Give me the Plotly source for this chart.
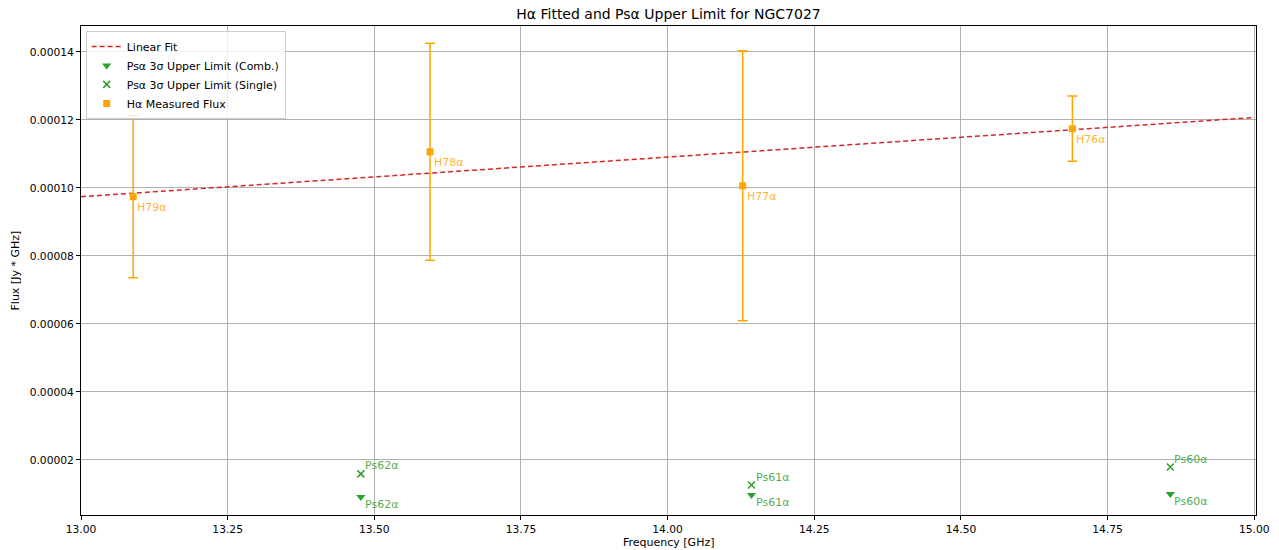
import plotly.graph_objects as go

# Hα measured
h_labels = ["H79α", "H78α", "H77α", "H76α"]
h_freq = [13.089, 13.595, 14.128, 14.690]
h_flux = [0.0000974, 0.0001106, 0.0001006, 0.0001174]
h_err = [0.0000238, 0.0000319, 0.0000397, 0.0000096]

# Psα upper limits
ps_labels = ["Ps62α", "Ps61α", "Ps60α"]
ps_freq = [13.477, 14.143, 14.857]
ps_comb = [0.0000091, 0.0000097, 0.0000100]
ps_single = [0.0000159, 0.0000126, 0.0000179]

# Linear fit endpoints
fit_x = [13.0, 15.0]
fit_y = [0.0000974, 0.0001207]

ORANGE = "#ffa500"
GREEN = "#2ca02c"
RED = "#d62728"
FONT = "DejaVu Sans"
TICK = 10.7

fig = go.Figure()
fig.add_trace(go.Scatter(x=fit_x, y=fit_y, mode="lines", name="Linear Fit",
                         line=dict(color=RED, width=1.5, dash="5px,3px")))
fig.add_trace(go.Scatter(x=ps_freq, y=ps_comb, mode="markers",
                         name="Psα 3σ Upper Limit (Comb.)",
                         marker=dict(symbol="triangle-down", size=8, color=GREEN)))
fig.add_trace(go.Scatter(x=ps_freq, y=ps_single, mode="markers",
                         name="Psα 3σ Upper Limit (Single)",
                         marker=dict(symbol="x-thin", size=7, color=GREEN,
                                     line=dict(color=GREEN, width=1.5))))
fig.add_trace(go.Scatter(x=h_freq, y=h_flux, mode="markers", name="Hα Measured Flux",
                         marker=dict(symbol="square", size=7, color=ORANGE),
                         error_y=dict(type="data", array=h_err, visible=True,
                                      color=ORANGE, thickness=1.5, width=5)))

for lab, x, y in zip(h_labels, h_freq, h_flux):
    fig.add_annotation(x=x, y=y, text=lab, showarrow=False, xanchor="left",
                       yanchor="middle", xshift=2, yshift=-11,
                       font=dict(family=FONT, size=11, color="rgba(255,165,0,0.85)"))
for lab, x, y in zip(ps_labels, ps_freq, ps_comb):
    fig.add_annotation(x=x, y=y, text=lab, showarrow=False, xanchor="left",
                       yanchor="middle", xshift=2, yshift=-8,
                       font=dict(family=FONT, size=11, color="rgba(44,160,44,0.85)"))
for lab, x, y in zip(ps_labels, ps_freq, ps_single):
    fig.add_annotation(x=x, y=y, text=lab, showarrow=False, xanchor="left",
                       yanchor="middle", xshift=2, yshift=8,
                       font=dict(family=FONT, size=11, color="rgba(44,160,44,0.85)"))

# axis titles as paper annotations for precise placement
fig.add_annotation(x=0.5, y=0, xref="paper", yref="paper", text="Frequency [GHz]",
                   showarrow=False, xanchor="center", yanchor="middle", yshift=-27,
                   font=dict(family=FONT, size=11, color="black"))
fig.add_annotation(x=0, y=0.5, xref="paper", yref="paper", text="Flux [Jy * GHz]",
                   showarrow=False, xanchor="center", yanchor="middle", xshift=-66,
                   textangle=-90, font=dict(family=FONT, size=11, color="black"))

axis_common = dict(showgrid=True, gridcolor="#b0b0b0", gridwidth=0.8,
                   showline=True, linecolor="black", linewidth=1, mirror=True,
                   ticks="outside", ticklen=4, tickcolor="black", automargin=False,
                   zeroline=False, tickfont=dict(family=FONT, size=TICK, color="black"))

fig.update_layout(
    width=1279, height=550,
    paper_bgcolor="white", plot_bgcolor="white",
    margin=dict(l=81, r=23, t=26, b=35),
    title=dict(text="Hα Fitted and Psα Upper Limit for NGC7027",
               x=0.5, xref="paper", xanchor="center", y=1 - 14 / 550, yanchor="middle",
               font=dict(family=FONT, size=14, color="black")),
    xaxis=dict(range=[13.0, 15.003], tickvals=[13.0, 13.25, 13.5, 13.75, 14.0, 14.25, 14.5, 14.75, 15.0],
               ticktext=["13.00", "13.25", "13.50", "13.75", "14.00", "14.25", "14.50", "14.75", "15.00"],
               **axis_common),
    yaxis=dict(range=[0.0000038, 0.0001476],
               tickvals=[0.00002, 0.00004, 0.00006, 0.00008, 0.0001, 0.00012, 0.00014],
               ticktext=["0.00002", "0.00004", "0.00006", "0.00008", "0.00010", "0.00012", "0.00014"],
               **axis_common),
    legend=dict(x=0.004, y=0.99, xanchor="left", yanchor="top",
                bgcolor="rgba(255,255,255,0.8)", bordercolor="#cccccc", borderwidth=1,
                font=dict(family=FONT, size=11, color="black"), tracegroupgap=0),
    showlegend=True,
)

fig.write_html("out.html", config={"displayModeBar": False},
               post_script="document.body.style.margin='0';document.body.style.overflow='hidden';")
